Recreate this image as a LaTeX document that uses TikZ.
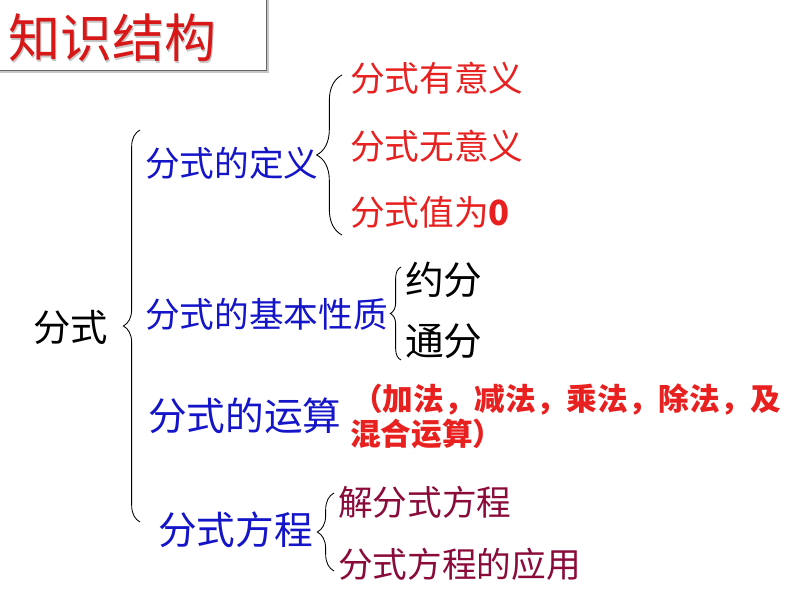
\documentclass[tikz,border=0pt]{standalone}
\usepackage{fontspec}
\setmainfont{Noto Sans CJK SC}
\usetikzlibrary{positioning, decorations.pathreplacing}
\definecolor{titlered}{HTML}{D81818}
\definecolor{itemred}{HTML}{E82020}
\definecolor{itemblue}{HTML}{1414C8}
\definecolor{itemmaroon}{HTML}{8A0A3A}
\tikzset{
    base/.style={inner sep=0pt, anchor=west},
    topic/.style={base, text=itemblue, font=\fontsize{26}{28}\selectfont},
    bigtopic/.style={base, text=itemblue, font=\fontsize{29}{31}\selectfont},
    redleaf/.style={base, text=itemred, font=\fontsize{26}{28}\selectfont},
    blackleaf/.style={base, text=black, font=\fontsize{29}{31}\selectfont},
    maroonleaf/.style={base, text=itemmaroon, font=\fontsize{26}{28}\selectfont},
    notetext/.style={base, text=itemred, font=\fontsize{23}{25}\selectfont\bfseries},
    bracel/.style={draw, line width=0.65pt, decorate, decoration={brace, amplitude=#1}}
}

\begin{document}
\begin{tikzpicture}[x=0.75pt, y=-0.75pt]
    \useasboundingbox (0,0) rectangle (794,596);

    % Title box
    \fill[gray!45] (-5,-5) rectangle (269,73);
    \filldraw[fill=white, draw=gray!80!black, line width=0.7pt] (-5,-5) rectangle (266,70);
    \node[base, text=gray!45, font=\fontsize{39}{41}\selectfont] at (9.5,39.5) {知识结构};
    \node[base, text=titlered, font=\fontsize{39}{41}\selectfont] (title) at (8,38) {知识结构};

    % Root
    \node[base, font=\fontsize{28}{30}\selectfont] (root) at (33,327) {分式};

    % Level 1
    \node[topic] (defn) at (145,163) {分式的定义};
    \node[topic] (prop) at (145,314) {分式的基本性质};
    \node[bigtopic] (oper) at (148,416) {分式的运算};
    \node[bigtopic] (eqn) at (158,530) {分式方程};

    % Level 2
    \node[redleaf] (def1) at (350,78) {分式有意义};
    \node[redleaf] (def2) at (350,146) {分式无意义};
    \node[redleaf] (def3) at (350,212) {分式值为\textbf{0}};
    \node[blackleaf] (prop1) at (405,280) {约分};
    \node[blackleaf] (prop2) at (405,341) {通分};
    \node[notetext] (note1) at (352,400) {（加法，减法，乘法，除法，及};
    \node[notetext] (note2) at (350,434) {混合运算）};
    \node[maroonleaf] (eqn1) at (338,502) {解分式方程};
    \node[maroonleaf] (eqn2) at (338,564) {分式方程的应用};

    % Braces
    \coordinate (rootT) at (140,130);
    \coordinate (rootB) at (140,522);
    \coordinate (defnT) at (342,75);
    \coordinate (defnB) at (342,235);
    \coordinate (propT) at (401,267);
    \coordinate (propB) at (401,360);
    \coordinate (eqnT) at (334,493);
    \coordinate (eqnB) at (334,571);
    \draw[bracel=12.5pt] (rootB) -- (rootT);
    \draw[bracel=19pt] (defnB) -- (defnT);
    \draw[bracel=8pt] (propB) -- (propT);
    \draw[bracel=12.5pt] (eqnB) -- (eqnT);
\end{tikzpicture}
\end{document}
